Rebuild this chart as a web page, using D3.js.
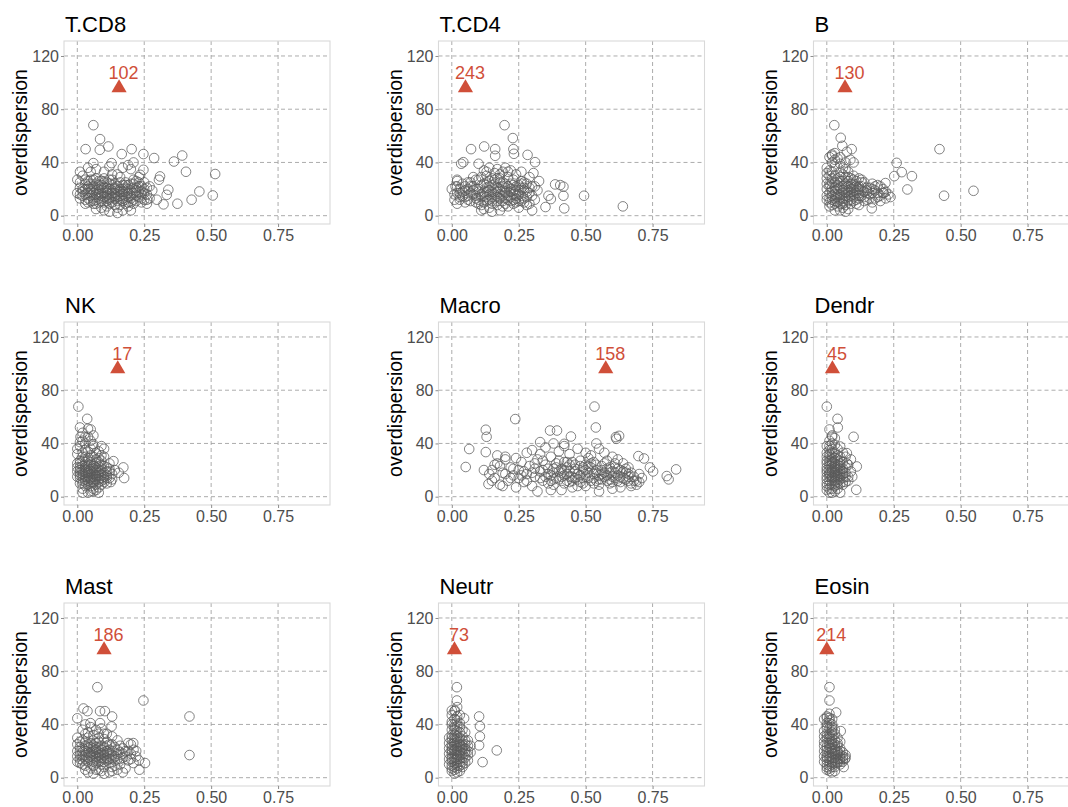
<!DOCTYPE html>
<html><head><meta charset="utf-8">
<script src="https://cdn.jsdelivr.net/npm/d3@7"></script>
<style>body{margin:0;background:#fff}svg{display:block}text{font-family:"Liberation Sans",Arial,sans-serif}</style>
</head><body><svg id="c" width="1068" height="807"></svg>
<script>
const cellTypes = ["T.CD8","T.CD4","B","NK","Macro","Dendr","Mast","Neutr","Eosin"];
const markX = [0.156,0.051,0.068,0.151,0.575,0.021,0.10,0.01,0.0];
const markY = [96,96,96,96,96,96,96,96,96];
const markLabels = ["102","243","130","17","158","45","186","73","214"];
const xTicks = [0,0.25,0.5,0.75];
const yTicks = [0,40,80,120];

const tcd8 = [[0.01,25],[0.02,18],[0.03,12],[0.02,30],[0.04,22],[0.05,15],[0.06,9],[0.05,27],[0.07,19],[0.08,13],[0.07,24],[0.09,17],[0.1,21],[0.11,11],[0.1,28],[0.12,16],[0.13,23],[0.14,8],[0.13,19],[0.15,14],[0.16,25],[0.17,11],[0.16,18],[0.18,21],[0.19,7],[0.18,15],[0.2,24],[0.21,12],[0.2,19],[0.22,17],[0.23,22],[0.24,10],[0.23,14],[0.25,20],[0.26,16],[0.25,25],[0.27,13],[0.26,21],[0.02,15],[0.03,20],[0.04,10],[0.05,33],[0.06,17],[0.07,28],[0.08,20],[0.09,6],[0.1,14],[0.11,25],[0.12,9],[0.13,31],[0.14,20],[0.15,6],[0.16,29],[0.17,16],[0.18,9],[0.19,23],[0.2,4],[0.21,27],[0.22,11],[0.24,18],[0.01,13],[0.03,27],[0.04,17],[0.06,22],[0.08,26],[0.09,11],[0.11,19],[0.12,27],[0.14,13],[0.15,22],[0.17,20],[0.19,14],[0.21,17],[0.22,26],[0.24,13],[0.26,9],[0.28,19],[0.06,13],[0.07,5],[0.1,4],[0.12,3],[0.15,2],[0.17,4],[0.05,20],[0.08,16],[0.11,15],[0.13,14],[0.16,12],[0.09,23],[0.12,20],[0.14,17],[0.18,18],[0.03,24],[0.0,17],[0.01,21],[0.0,27],[0.04,36],[0.07,35],[0.1,33],[0.12,37],[0.15,31],[0.17,36],[0.19,38],[0.2,35],[0.21,40],[0.23,29],
[0.06,68],[0.085,57.5],[0.116,52],[0.031,50],[0.084,49.5],[0.166,46.3],[0.203,50],[0.247,46.3],[0.287,43.3],[0.392,45.2],[0.361,40.7],[0.406,33],[0.515,31.3],[0.456,18.2],[0.427,12],[0.506,15.2],[0.374,9],[0.309,29.5],[0.305,27],[0.34,19.5],[0.334,15.7],[0.297,12],[0.322,8.5],[0.247,34.5],[0.235,30.7],[0.128,39.5],[0.06,39.5],[0.01,33],
[0.03,16],[0.04,13],[0.05,24],[0.06,19],[0.07,14],[0.08,23],[0.09,15],[0.1,10],[0.11,21],[0.12,13],[0.13,17],[0.14,24],[0.15,11],[0.16,20],[0.17,13],[0.18,25],[0.19,17],[0.2,10],[0.21,21],[0.22,15],[0.23,18],[0.24,22],[0.25,12],[0.04,26],[0.05,11],[0.06,27],[0.07,9],[0.08,18],[0.09,26],[0.1,17],[0.11,7],[0.12,24],[0.13,10],[0.14,15],[0.15,19],[0.16,8],[0.17,23],[0.18,12],[0.19,20],[0.2,15],[0.21,9],[0.22,21],[0.23,25],[0.24,16],[0.02,20],[0.03,9],[0.05,18],[0.06,11],[0.08,10],[0.09,21],[0.11,17],[0.12,12],[0.14,21],[0.15,16],[0.17,18],[0.18,23],[0.2,13],[0.22,19],[0.25,17],[0.26,12],[0.27,22],[0.01,16],[0.1,25],[0.13,27],[0.16,15],[0.19,10],[0.21,24],[0.07,16],[0.04,20],[0.11,13]];

const tcd4 = [[0.01,16],[0.02,22],[0.03,12],[0.02,9],[0.04,18],[0.05,14],[0.06,20],[0.07,11],[0.06,25],[0.08,16],[0.09,13],[0.08,22],[0.1,18],[0.11,8],[0.1,27],[0.12,15],[0.13,21],[0.12,5],[0.14,12],[0.13,30],[0.15,18],[0.16,24],[0.15,9],[0.17,14],[0.18,20],[0.17,28],[0.19,11],[0.2,17],[0.19,25],[0.21,7],[0.22,14],[0.21,22],[0.23,19],[0.24,10],[0.23,27],[0.25,16],[0.26,21],[0.25,6],[0.27,13],[0.28,18],[0.27,25],[0.29,9],[0.3,15],[0.29,21],[0.31,12],[0.32,19],[0.3,4],[0.0,20],[0.01,12],[0.03,17],[0.04,24],[0.05,10],[0.07,17],[0.09,20],[0.1,12],[0.11,23],[0.12,18],[0.14,16],[0.14,26],[0.16,13],[0.16,19],[0.17,8],[0.18,16],[0.18,31],[0.19,19],[0.2,13],[0.2,24],[0.21,29],[0.22,18],[0.22,34],[0.23,12],[0.24,22],[0.24,15],[0.26,11],[0.26,26],[0.27,19],[0.28,8],[0.28,14],[0.29,29],[0.31,22],[0.13,11],[0.15,28],[0.11,14],[0.09,27],[0.07,22],[0.17,35],[0.19,33],[0.13,25],[0.15,3],[0.11,4],[0.18,4],[0.2,36],[0.24,31],[0.26,33],[0.12,34],[0.14,36],[0.08,29],[0.06,15],[0.05,19],[0.03,14],[0.02,26],
[0.197,68],[0.228,58.3],[0.121,52],[0.072,50],[0.162,50],[0.23,50],[0.232,46.5],[0.162,45],[0.283,45.7],[0.043,40.2],[0.035,39],[0.1,39],[0.311,40.2],[0.305,32],[0.326,26],[0.386,23.5],[0.405,23],[0.417,21.8],[0.361,15],[0.37,12.5],[0.35,6.5],[0.417,15],[0.42,5.5],[0.494,15],[0.639,7],[0.014,22],[0.02,27],
[0.1,20],[0.11,16],[0.12,24],[0.13,14],[0.14,19],[0.15,23],[0.16,16],[0.17,21],[0.18,13],[0.19,22],[0.2,18],[0.21,15],[0.22,24],[0.23,16],[0.24,19],[0.25,23],[0.26,15],[0.27,21],[0.28,24],[0.12,10],[0.13,18],[0.14,22],[0.15,14],[0.16,27],[0.17,18],[0.18,25],[0.19,15],[0.2,21],[0.21,12],[0.22,20],[0.23,23],[0.24,13],[0.25,19],[0.26,24],[0.08,19],[0.09,15],[0.07,25],[0.06,12],[0.05,22],[0.04,15],[0.03,20],[0.02,17],[0.1,9],[0.15,11],[0.2,9],[0.25,11],[0.29,17],[0.3,22],[0.16,32],[0.21,33],[0.18,28],[0.13,33],[0.11,29],[0.23,9],[0.27,10],[0.19,7],[0.14,6],[0.09,10],[0.17,11],[0.22,11]];

const bcell = [[0.0,15],[0.01,22],[0.0,28],[0.01,10],[0.02,18],[0.02,33],[0.03,13],[0.03,25],[0.04,7],[0.04,20],[0.05,16],[0.05,29],[0.06,11],[0.06,22],[0.07,18],[0.07,35],[0.08,14],[0.08,26],[0.09,9],[0.09,20],[0.1,16],[0.1,24],[0.11,12],[0.11,19],[0.12,22],[0.12,8],[0.13,15],[0.13,25],[0.14,18],[0.15,12],[0.15,21],[0.16,16],[0.17,24],[0.17,10],[0.18,19],[0.19,14],[0.2,22],[0.2,11],[0.21,17],[0.22,13],[0.01,17],[0.02,12],[0.02,25],[0.03,19],[0.03,4],[0.04,14],[0.04,28],[0.05,21],[0.05,9],[0.06,17],[0.06,31],[0.07,13],[0.07,24],[0.08,19],[0.08,5],[0.09,15],[0.09,28],[0.1,11],[0.11,26],[0.12,15],[0.13,19],[0.14,11],[0.14,25],[0.16,21],[0.18,13],[0.19,23],[0.0,20],[0.0,36],[0.01,30],[0.02,40],[0.03,37],[0.04,43],[0.05,39],[0.06,36],[0.08,33],[0.1,30],[0.12,28],[0.01,7],[0.03,9],[0.05,4],[0.06,6],[0.07,3],[0.02,21],[0.04,23],[0.06,26],[0.08,22],[0.1,19],[0.12,17],[0.03,16],[0.05,12],[0.07,8],[0.09,24],[0.11,9],[0.15,17],[0.17,20],[0.13,27],[0.01,44],[0.02,45],
[0.028,68],[0.052,58.5],[0.058,52.5],[0.093,50],[0.075,48],[0.03,47],[0.02,46],[0.1,40],[0.088,42],[0.261,39.7],[0.28,32.7],[0.318,29.7],[0.252,29.7],[0.301,19.7],[0.421,50],[0.438,15],[0.548,18.7],[0.219,24.5],[0.213,17],[0.238,14],[0.168,5.5],
[0.01,13],[0.01,24],[0.02,15],[0.02,28],[0.03,11],[0.03,21],[0.03,30],[0.04,16],[0.04,25],[0.05,14],[0.05,26],[0.06,19],[0.06,13],[0.07,21],[0.07,15],[0.08,17],[0.08,29],[0.09,12],[0.09,22],[0.1,14],[0.1,27],[0.11,17],[0.11,22],[0.12,13],[0.12,20],[0.0,12],[0.0,24],[0.0,32],[0.01,34],[0.02,8],[0.04,10],[0.05,33],[0.06,9],[0.07,29],[0.08,11],[0.09,18],[0.1,21],[0.13,22],[0.14,14],[0.15,19],[0.16,13],[0.17,17],[0.18,22],[0.19,17],[0.2,15],[0.21,20],[0.22,18],[0.23,16],[0.03,42],[0.05,44],[0.07,40]];

const nkcell = [[0.0,15],[0.01,20],[0.0,25],[0.01,10],[0.02,17],[0.02,30],[0.02,6],[0.03,13],[0.03,22],[0.03,35],[0.04,18],[0.04,9],[0.04,27],[0.05,14],[0.05,21],[0.05,4],[0.06,17],[0.06,30],[0.06,10],[0.07,13],[0.07,22],[0.08,16],[0.08,26],[0.08,7],[0.09,19],[0.09,12],[0.1,15],[0.1,23],[0.11,10],[0.11,19],[0.12,14],[0.12,25],[0.13,17],[0.01,14],[0.01,27],[0.02,12],[0.02,23],[0.03,18],[0.03,8],[0.04,14],[0.04,23],[0.05,17],[0.05,31],[0.06,21],[0.06,13],[0.07,18],[0.07,28],[0.07,5],[0.08,20],[0.08,11],[0.09,16],[0.09,24],[0.1,11],[0.1,30],[0.11,14],[0.12,19],[0.0,32],[0.01,38],[0.02,42],[0.03,40],[0.04,45],[0.05,36],[0.06,38],[0.07,33],[0.08,34],[0.09,31],[0.1,36],[0.02,3],[0.04,3],[0.06,4],[0.08,3],[0.03,26],[0.05,24],[0.07,16],[0.09,9],[0.11,22],[0.13,13],[0.14,20],[0.02,15],[0.04,19],[0.06,15],[0.03,30],[0.05,11],[0.01,18],[0.02,48],[0.04,51],
[0.004,67.7],[0.037,58.5],[0.01,52],[0.05,50.5],[0.012,45],[0.059,39.5],[0.09,38],[0.0,36],[0.135,26.7],[0.172,22],[0.155,18],[0.175,14],[0.125,11],
[0.01,22],[0.01,16],[0.02,19],[0.02,27],[0.02,10],[0.03,15],[0.03,20],[0.03,24],[0.04,12],[0.04,16],[0.04,21],[0.04,29],[0.05,13],[0.05,19],[0.05,26],[0.06,11],[0.06,19],[0.06,23],[0.07,15],[0.07,20],[0.07,25],[0.08,13],[0.08,18],[0.08,23],[0.09,14],[0.09,21],[0.1,18],[0.1,13],[0.11,16],[0.12,21],[0.0,19],[0.0,22],[0.01,25],[0.02,33],[0.03,11],[0.05,8],[0.06,6],[0.07,9],[0.08,29],[0.09,27],[0.03,45],[0.05,42],[0.06,46],[0.01,41],[0.04,34]];

const macro = [[0.15,20],[0.16,14],[0.17,25],[0.18,9],[0.19,18],[0.2,28],[0.21,12],[0.22,22],[0.23,16],[0.24,7],[0.25,20],[0.26,26],[0.27,11],[0.28,17],[0.29,23],[0.3,8],[0.31,15],[0.32,28],[0.33,19],[0.34,12],[0.35,24],[0.36,17],[0.37,5],[0.38,21],[0.39,14],[0.4,27],[0.41,18],[0.42,10],[0.43,22],[0.44,15],[0.45,26],[0.46,19],[0.47,8],[0.48,23],[0.49,14],[0.5,20],[0.51,29],[0.52,12],[0.53,17],[0.54,24],[0.55,9],[0.56,20],[0.57,15],[0.58,27],[0.59,18],[0.6,11],[0.61,22],[0.62,16],[0.63,7],[0.64,19],[0.65,13],[0.66,17],[0.67,10],[0.68,15],[0.69,12],[0.7,17],[0.71,14],[0.17,31],[0.2,30],[0.24,29],[0.28,33],[0.3,35],[0.33,32],[0.35,37],[0.37,30],[0.4,34],[0.42,38],[0.44,32],[0.47,36],[0.5,33],[0.52,31],[0.55,36],[0.57,33],[0.6,30],[0.62,28],[0.64,25],[0.66,22],[0.36,10],[0.38,13],[0.41,15],[0.43,17],[0.45,12],[0.46,21],[0.48,16],[0.49,19],[0.51,14],[0.52,22],[0.54,18],[0.56,13],[0.57,25],[0.59,10],[0.6,19],[0.62,21],[0.34,20],[0.39,22],[0.44,24],[0.53,26],[0.58,21],[0.63,15],[0.65,18],[0.41,5],[0.5,8],[0.55,4],[0.32,4],[0.6,6],[0.67,8],[0.69,9],[0.7,11],[0.45,7],[0.27,19],[0.22,14],[0.19,8],[0.15,12],[0.14,17],[0.16,24],[0.25,14],[0.31,21],[0.37,16],[0.42,26],[0.47,13],[0.53,10],[0.61,14],[0.66,12],
[0.533,67.7],[0.237,58.3],[0.538,52],[0.127,50.3],[0.13,45],[0.367,49.7],[0.393,49.7],[0.445,45.2],[0.613,44.8],[0.625,45.7],[0.615,43.5],[0.065,35.8],[0.052,22.3],[0.127,33.5],[0.33,41],[0.38,40],[0.42,39.7],[0.54,40],[0.697,30.5],[0.718,28.7],[0.74,22],[0.752,19],[0.803,15.5],[0.838,20.5],[0.81,13],[0.12,20],[0.137,9.5],
[0.35,15],[0.36,21],[0.37,12],[0.38,18],[0.39,25],[0.4,13],[0.41,21],[0.42,16],[0.43,12],[0.44,19],[0.45,15],[0.46,24],[0.47,17],[0.48,11],[0.49,22],[0.5,15],[0.51,18],[0.52,25],[0.53,14],[0.54,20],[0.55,13],[0.56,23],[0.57,18],[0.58,12],[0.59,22],[0.6,15],[0.61,18],[0.62,12],[0.63,20],[0.64,14],[0.65,21],[0.66,15],[0.67,18],[0.68,12],[0.38,9],[0.4,19],[0.43,26],[0.46,14],[0.49,10],[0.51,23],[0.54,12],[0.56,17],[0.58,16],[0.61,25],[0.63,11],[0.3,18],[0.31,25],[0.33,14],[0.34,27],[0.26,16],[0.28,12],[0.23,21],[0.2,17],[0.18,23],[0.42,20],[0.48,27],[0.44,11],[0.5,24],[0.55,16],[0.59,13]];

const dendr = [[0.0,10],[0.0,20],[0.0,30],[0.01,15],[0.01,25],[0.01,6],[0.01,35],[0.02,12],[0.02,18],[0.02,28],[0.02,40],[0.03,8],[0.03,16],[0.03,23],[0.03,33],[0.04,13],[0.04,20],[0.04,28],[0.05,10],[0.05,17],[0.05,25],[0.06,14],[0.06,21],[0.07,18],[0.07,11],[0.08,15],[0.08,24],[0.09,19],[0.0,15],[0.0,25],[0.0,5],[0.01,20],[0.01,12],[0.01,30],[0.02,9],[0.02,22],[0.02,33],[0.02,3],[0.03,19],[0.03,27],[0.03,12],[0.04,16],[0.04,24],[0.04,36],[0.04,6],[0.05,21],[0.05,13],[0.05,30],[0.06,17],[0.06,26],[0.06,9],[0.07,22],[0.07,30],[0.08,12],[0.0,38],[0.01,42],[0.02,46],[0.03,44],[0.03,4],[0.05,3],[0.0,18],[0.01,17],[0.02,15],[0.03,21],[0.04,11],[0.05,19],[0.01,27],[0.02,25],[0.06,33],[0.09,28],
[0.0,67.7],[0.04,58.5],[0.041,52],[0.01,50.5],[0.1,45],[0.02,45],[0.05,37.7],[0.075,32.7],[0.112,22.7],[0.11,5.2],[0.095,15],[0.075,25],
[0.0,13],[0.0,22],[0.0,27],[0.01,9],[0.01,18],[0.01,23],[0.01,32],[0.02,14],[0.02,20],[0.02,26],[0.02,30],[0.03,10],[0.03,14],[0.03,18],[0.03,25],[0.03,29],[0.04,15],[0.04,18],[0.04,22],[0.04,31],[0.05,15],[0.05,23],[0.05,27],[0.06,19],[0.06,11],[0.07,15],[0.01,38],[0.02,36],[0.03,39],[0.0,33],[0.04,9],[0.02,6],[0.01,3],[0.0,8]];

const mast = [[0.0,20],[0.01,14],[0.01,27],[0.02,10],[0.02,22],[0.03,17],[0.03,33],[0.04,12],[0.04,25],[0.05,19],[0.05,7],[0.06,15],[0.06,28],[0.07,21],[0.07,11],[0.08,17],[0.08,33],[0.09,13],[0.09,24],[0.1,8],[0.1,19],[0.11,15],[0.11,27],[0.12,11],[0.12,21],[0.13,17],[0.13,5],[0.14,23],[0.14,13],[0.15,18],[0.16,10],[0.16,24],[0.17,15],[0.18,20],[0.18,7],[0.19,13],[0.2,18],[0.2,25],[0.21,11],[0.22,16],[0.0,12],[0.0,30],[0.01,20],[0.02,16],[0.02,36],[0.03,9],[0.03,24],[0.04,19],[0.04,30],[0.05,13],[0.05,23],[0.06,9],[0.06,20],[0.07,16],[0.07,26],[0.08,6],[0.08,22],[0.09,18],[0.1,14],[0.1,29],[0.11,20],[0.12,16],[0.12,4],[0.13,25],[0.14,9],[0.15,28],[0.16,19],[0.17,22],[0.19,26],[0.21,21],[0.03,40],[0.05,38],[0.07,36],[0.09,37],[0.11,33],[0.13,31],[0.04,4],[0.06,3],[0.1,3],[0.15,6],[0.17,4],[0.01,17],[0.03,14],[0.05,17],[0.07,19],[0.09,10],[0.11,24],[0.13,14],[0.15,14],[0.02,28],[0.06,24],[0.08,12],
[0.075,68],[0.247,58],[0.419,46],[0.419,17],[0.0,44.6],[0.023,52],[0.038,50],[0.085,50],[0.103,50],[0.13,46],[0.128,38.5],[0.085,41],[0.049,41],[0.209,26],[0.253,11],[0.232,6],
[0.02,19],[0.02,13],[0.03,20],[0.03,27],[0.04,15],[0.04,22],[0.05,16],[0.05,26],[0.06,12],[0.06,18],[0.06,22],[0.07,14],[0.07,23],[0.08,15],[0.08,19],[0.08,27],[0.09,15],[0.09,21],[0.1,12],[0.1,17],[0.1,23],[0.11,13],[0.11,18],[0.12,14],[0.12,19],[0.12,25],[0.13,20],[0.14,16],[0.15,21],[0.16,14],[0.17,18],[0.18,16],[0.19,20],[0.01,11],[0.01,23],[0.0,16],[0.0,25],[0.04,34],[0.06,32],[0.08,30],[0.1,33],[0.03,6],[0.07,6],[0.09,5],[0.13,8],[0.2,14],[0.22,20],[0.23,13]];

const neutr = [[0.0,5],[0.0,12],[0.0,18],[0.0,25],[0.0,32],[0.0,40],[0.01,8],[0.01,15],[0.01,21],[0.01,28],[0.01,36],[0.01,44],[0.02,4],[0.02,11],[0.02,17],[0.02,24],[0.02,31],[0.02,39],[0.03,9],[0.03,14],[0.03,20],[0.03,27],[0.03,34],[0.04,12],[0.04,18],[0.04,25],[0.04,31],[0.05,15],[0.05,22],[0.05,28],[0.06,17],[0.06,13],[0.06,24],[0.07,19],[0.0,9],[0.0,15],[0.0,21],[0.0,28],[0.0,36],[0.01,3],[0.01,11],[0.01,18],[0.01,24],[0.01,32],[0.01,40],[0.02,7],[0.02,14],[0.02,20],[0.02,27],[0.02,35],[0.02,43],[0.03,5],[0.03,17],[0.03,23],[0.03,30],[0.03,38],[0.04,8],[0.04,15],[0.04,21],[0.04,28],[0.05,11],[0.05,18],[0.05,34],[0.06,20],[-0.01,14],[-0.01,22],[-0.01,30],[0.0,47],[0.01,50],[0.02,53],[0.03,47],
[0.019,68],[0.019,58],[0.012,50.5],[0.0,50.5],[0.046,44.6],[0.102,46],[0.105,38.7],[0.105,31],[0.102,24.3],[0.115,11.7],[0.168,20.5],[0.07,24],
[0.0,7],[0.0,14],[0.0,20],[0.0,23],[0.0,30],[0.01,6],[0.01,13],[0.01,20],[0.01,26],[0.01,30],[0.02,9],[0.02,16],[0.02,22],[0.02,29],[0.03,12],[0.03,19],[0.03,25],[0.04,10],[0.04,23],[0.05,20],[-0.01,18],[-0.01,26],[-0.01,10],[0.0,42],[0.01,38],[0.02,46],[0.03,41],[0.04,36],[0.05,25],[0.06,28]];

const eosin = [[0.0,6],[0.0,13],[0.0,19],[0.0,26],[0.0,33],[0.0,41],[0.01,9],[0.01,16],[0.01,22],[0.01,29],[0.01,37],[0.01,45],[0.02,4],[0.02,12],[0.02,18],[0.02,25],[0.02,32],[0.02,40],[0.03,8],[0.03,15],[0.03,21],[0.03,28],[0.04,11],[0.04,17],[0.04,24],[0.05,14],[0.05,20],[0.05,27],[0.06,16],[0.06,12],[0.0,10],[0.0,16],[0.0,23],[0.0,29],[0.0,37],[-0.01,12],[-0.01,20],[-0.01,27],[-0.01,35],[0.01,5],[0.01,12],[0.01,19],[0.01,26],[0.01,33],[0.01,41],[0.02,8],[0.02,15],[0.02,22],[0.02,29],[0.02,36],[0.03,5],[0.03,11],[0.03,18],[0.03,25],[0.03,33],[0.04,14],[0.04,20],[0.04,30],[0.05,10],[0.05,17],[0.06,19],[0.07,15],[0.0,45],[0.01,48],[-0.01,44],[0.02,44],
[0.01,68],[0.01,58],[0.035,49],[0.0,46],[0.052,35],[0.068,14],[0.063,8],
[0.0,8],[0.0,15],[0.0,21],[0.0,31],[0.01,7],[0.01,14],[0.01,24],[0.01,31],[0.02,10],[0.02,20],[0.02,27],[0.02,34],[0.03,13],[0.03,20],[0.03,23],[0.04,12],[0.04,19],[0.04,26],[0.05,15],[0.05,22],[-0.01,16],[-0.01,24],[-0.01,31],[0.0,39],[0.01,43],[0.02,38],[0.03,36],[0.06,14],[0.07,17],[0.05,12]];

const panelData = [tcd8,tcd4,bcell,nkcell,macro,dendr,mast,neutr,eosin];

const svg = d3.select("#c");
const colLeft = [64, 438.5, 813.5];
const rowTop = [41, 322, 603];
const pw = 266, ph = 183;
const red = "#d04f39";

cellTypes.forEach((name, i) => {
  const c = i % 3, r = Math.floor(i / 3);
  const L = colLeft[c], T = rowTop[r];
  const x = d3.scaleLinear().domain([-0.0497, 0.944]).range([L, L + pw]);
  const y = d3.scaleLinear().domain([-6.25, 131.25]).range([T + ph, T]);
  const g = svg.append("g");
  g.selectAll(".gx").data(xTicks).join("line")
    .attr("x1", d => x(d)).attr("x2", d => x(d)).attr("y1", T).attr("y2", T + ph)
    .attr("stroke", "#a3a3a3").attr("stroke-width", 0.9).attr("stroke-dasharray", "4,3");
  g.selectAll(".gy").data(yTicks).join("line")
    .attr("y1", d => y(d)).attr("y2", d => y(d)).attr("x1", L).attr("x2", L + pw)
    .attr("stroke", "#a3a3a3").attr("stroke-width", 0.9).attr("stroke-dasharray", "4,3");
  g.append("rect").attr("x", L).attr("y", T).attr("width", pw).attr("height", ph)
    .attr("fill", "none").attr("stroke", "#d9d9d9").attr("stroke-width", 1.1);
  const xa = g.append("g").attr("transform", `translate(0,${T + ph})`)
    .call(d3.axisBottom(x).tickValues(xTicks).tickFormat(d3.format(".2f")).tickSize(3).tickPadding(3));
  const ya = g.append("g").attr("transform", `translate(${L},0)`)
    .call(d3.axisLeft(y).tickValues(yTicks).tickSize(3).tickPadding(2));
  [xa, ya].forEach(a => {
    a.select(".domain").remove();
    a.selectAll(".tick line").attr("stroke", "#8c8c8c");
    a.selectAll(".tick text").attr("fill", "#4d4d4d").style("font-size", "16px")
      .style("font-family", '"Liberation Sans", Arial, sans-serif');
  });
  g.append("g").selectAll("circle").data(panelData[i]).join("circle")
    .attr("cx", d => x(d[0])).attr("cy", d => y(d[1])).attr("r", 4.8)
    .attr("fill", "none").attr("stroke", "#5a5a5a").attr("stroke-width", 0.75);
  const mx = x(markX[i]), my = y(markY[i]);
  g.append("path").attr("d", d3.symbol(d3.symbolTriangle, 100)())
    .attr("transform", `translate(${mx},${my})`).attr("fill", red);
  g.append("text").attr("x", mx + 4.5).attr("y", my - 9).attr("text-anchor", "middle")
    .attr("fill", red).style("font-size", "18px").text(markLabels[i]);
  g.append("text").attr("x", L + 1).attr("y", T - 9).style("font-size", "22px").attr("fill", "#000").text(name);
  g.append("text").attr("transform", `translate(${L - 44},${T + ph / 2}) rotate(-90)`)
    .attr("text-anchor", "middle").attr("dominant-baseline", "central")
    .style("font-size", "19.5px").attr("fill", "#000").text("overdispersion");
});
</script></body></html>
